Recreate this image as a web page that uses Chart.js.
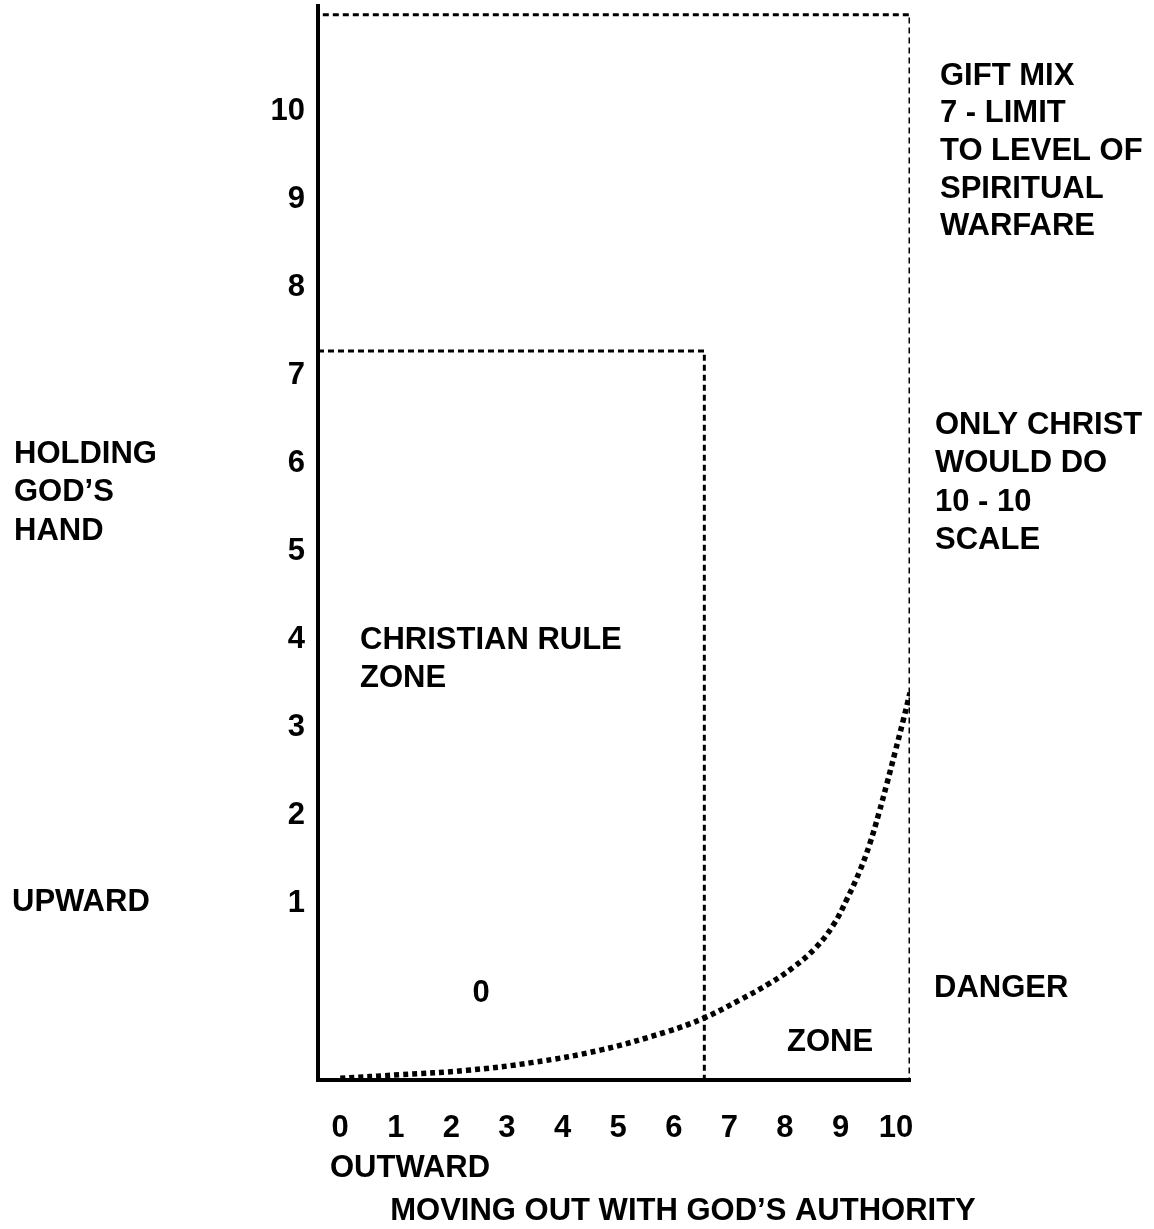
<!DOCTYPE html>
<html>
<head>
<meta charset="utf-8">
<script src="https://cdn.jsdelivr.net/npm/chart.js@4.4.1/dist/chart.umd.min.js"></script>
<style>
html,body{margin:0;padding:0;background:#fff;}
#wrap{width:1154px;height:1229px;}
</style>
</head>
<body>
<div id="wrap"><canvas id="c" width="1154" height="1229"></canvas></div>
<script>
// ---- data ----
const xTicks = [0,1,2,3,4,5,6,7,8,9,10];
const yTicks = [1,2,3,4,5,6,7,8,9,10];
const xRange = [-0.4, 10.25];
const yRange = [-1, 11.2];
// danger curve
const curveX = [0, 1.08, 2.28, 3.47, 4.68, 5.88, 6.53, 7.19, 7.73, 8.15, 8.55, 8.87, 9.12, 9.35, 9.53, 9.69, 9.84, 9.98, 10.13, 10.25];
const curveY = [-0.98, -0.94, -0.89, -0.80, -0.66, -0.45, -0.30, -0.09, 0.10, 0.28, 0.50, 0.76, 1.06, 1.38, 1.69, 2.03, 2.38, 2.72, 3.09, 3.40];
// gift-mix limit box
const outerBoxX = [-0.4, -0.4, 10.25, 10.25];
const outerBoxY = [-1, 11.1, 11.1, -1];
// christian rule zone box
const innerBoxX = [-0.4, 6.55, 6.55];
const innerBoxY = [7.28, 7.28, -1];
// texts
const giftMixText = ["GIFT MIX", "7 - LIMIT", "TO LEVEL OF", "SPIRITUAL", "WARFARE"];
const onlyChristText = ["ONLY CHRIST", "WOULD DO", "10 - 10", "SCALE"];
const holdingText = ["HOLDING", "GOD\u2019S", "HAND"];
const upwardText = "UPWARD";
const dangerText = "DANGER";
const zoneText = "ZONE";
const ruleZoneText = ["CHRISTIAN RULE", "ZONE"];
const zeroText = "0";
const outwardText = "OUTWARD";
const xTitleText = "MOVING OUT WITH GOD\u2019S AUTHORITY";

const toPts = (xs, ys) => xs.map((x, i) => ({x: x, y: ys[i]}));
const FONT = 'bold 31px "Liberation Sans", Arial, sans-serif';

const textPlugin = {
  id: 'texts',
  afterDraw(chart) {
    const ctx = chart.ctx;
    ctx.save();
    ctx.fillStyle = '#000';
    ctx.font = FONT;
    ctx.textBaseline = 'middle';
    ctx.textAlign = 'left';
    const lines = (arr, x, y0, dy) => arr.forEach((t, i) => ctx.fillText(t, x, y0 + i * dy));
    lines(giftMixText, 940, 76, 37.7);
    lines(onlyChristText, 935, 425, 38.5);
    lines(holdingText, 14, 454, 38.5);
    ctx.fillText(upwardText, 12, 902);
    ctx.fillText(dangerText, 934, 988);
    ctx.fillText(zoneText, 787, 1042);
    lines(ruleZoneText, 360, 640, 38);
    ctx.textAlign = 'center';
    ctx.fillText(zeroText, 481, 993);
    ctx.textAlign = 'left';
    ctx.fillText(outwardText, 330, 1168);
    ctx.textAlign = 'center';
    ctx.fillText(xTitleText, 683, 1211);
    ctx.restore();
  }
};

new Chart(document.getElementById('c'), {
  type: 'line',
  data: {
    datasets: [
      {
        data: toPts(outerBoxX, outerBoxY),
        borderColor: '#000', borderWidth: 3, borderDash: [6, 4],
        pointRadius: 0, tension: 0, fill: false
      },
      {
        data: toPts(innerBoxX, innerBoxY),
        borderColor: '#000', borderWidth: 3, borderDash: [6, 4],
        pointRadius: 0, tension: 0, fill: false
      },
      {
        data: toPts(curveX, curveY),
        borderColor: '#000', borderWidth: 5.5, borderDash: [5, 4], borderCapStyle: 'butt',
        pointRadius: 0, tension: 0.4, fill: false
      }
    ]
  },
  options: {
    responsive: false,
    animation: false,
    devicePixelRatio: 1,
    layout: { padding: { top: 6, right: 244, left: 0, bottom: 0 } },
    plugins: { legend: { display: false }, tooltip: { enabled: false } },
    scales: {
      x: {
        type: 'linear',
        min: xRange[0], max: xRange[1],
        grid: { display: false, drawTicks: false },
        border: { display: true, color: '#000', width: 4 },
        afterBuildTicks: s => { s.ticks = xTicks.map(v => ({value: v})); },
        afterFit: s => { s.height = 149; s.paddingLeft = 0; s.paddingRight = 0; },
        ticks: {
          color: '#000', padding: 30, maxRotation: 0, autoSkip: false,
          font: { family: '"Liberation Sans", Arial, sans-serif', size: 31, weight: 'bold' }
        }
      },
      y: {
        type: 'linear',
        min: yRange[0], max: yRange[1],
        grid: { display: false, drawTicks: false },
        border: { display: true, color: '#000', width: 4 },
        afterBuildTicks: s => { s.ticks = yTicks.map(v => ({value: v})); },
        afterFit: s => { s.width = 318; s.paddingTop = 0; s.paddingBottom = 0; },
        ticks: {
          color: '#000', padding: 13, autoSkip: false,
          font: { family: '"Liberation Sans", Arial, sans-serif', size: 31, weight: 'bold' }
        }
      }
    }
  },
  plugins: [textPlugin]
});
</script>
</body>
</html>
